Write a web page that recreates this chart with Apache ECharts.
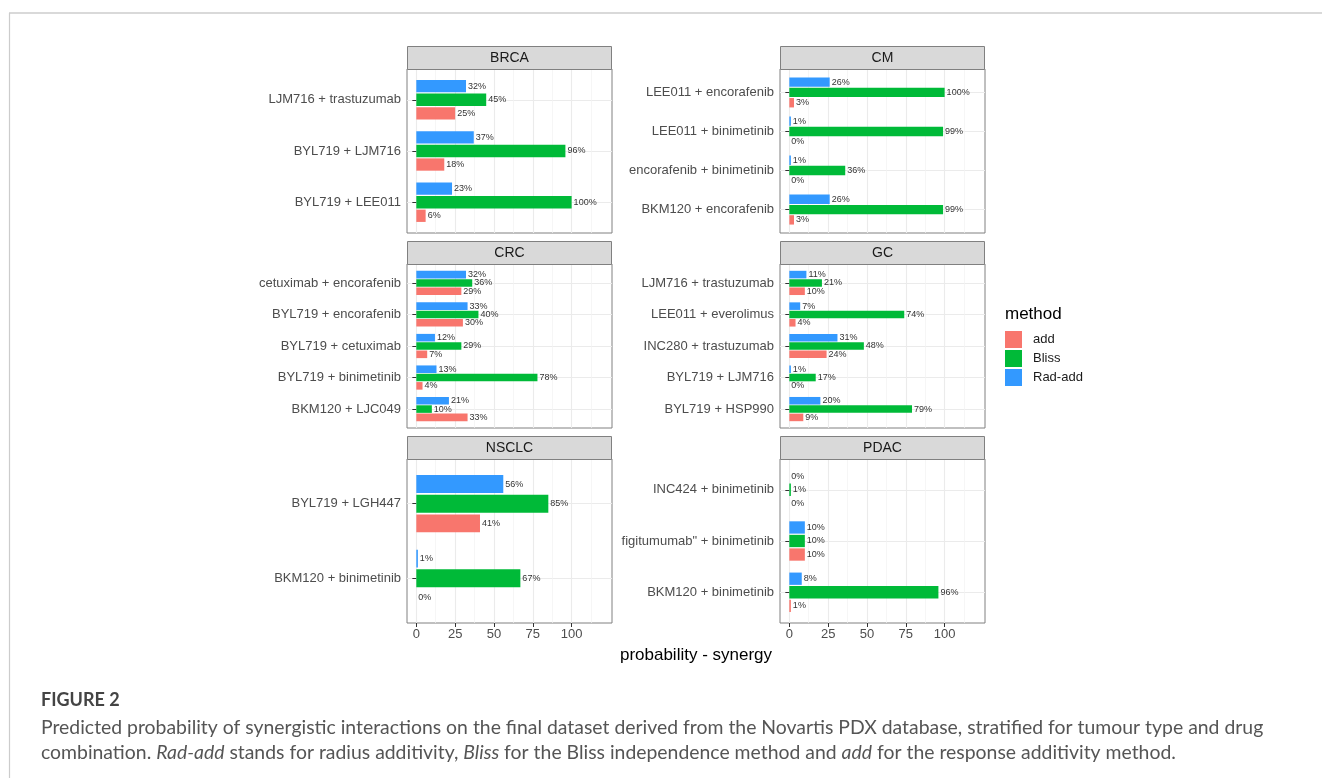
<!DOCTYPE html>
<html>
<head>
<meta charset="utf-8">
<script src="https://cdn.jsdelivr.net/npm/echarts@6/dist/echarts.min.js"></script>
<style>
  html, body { margin: 0; padding: 0; background: #ffffff; }
  #chart { width: 1322px; height: 778px; }
</style>
</head>
<body>
<div id="chart"></div>
<script>
// Synergy methods, in legend order
const methods = ['add', 'Bliss', 'Rad-add'];
const methodColors = ['#F8766D', '#00BA38', '#3399FF'];

// Tumour types (facet order)
const tumourTypes = ['BRCA', 'CM', 'CRC', 'GC', 'NSCLC', 'PDAC'];

// Drug combinations per tumour type, listed bottom-to-top, with probability (%) per method
const brcaCombos = ['BYL719 + LEE011', 'BYL719 + LJM716', 'LJM716 + trastuzumab'];
const brcaAdd    = [6, 18, 25];
const brcaBliss  = [100, 96, 45];
const brcaRadAdd = [23, 37, 32];

const cmCombos = ['BKM120 + encorafenib', 'encorafenib + binimetinib', 'LEE011 + binimetinib', 'LEE011 + encorafenib'];
const cmAdd    = [3, 0, 0, 3];
const cmBliss  = [99, 36, 99, 100];
const cmRadAdd = [26, 1, 1, 26];

const crcCombos = ['BKM120 + LJC049', 'BYL719 + binimetinib', 'BYL719 + cetuximab', 'BYL719 + encorafenib', 'cetuximab + encorafenib'];
const crcAdd    = [33, 4, 7, 30, 29];
const crcBliss  = [10, 78, 29, 40, 36];
const crcRadAdd = [21, 13, 12, 33, 32];

const gcCombos = ['BYL719 + HSP990', 'BYL719 + LJM716', 'INC280 + trastuzumab', 'LEE011 + everolimus', 'LJM716 + trastuzumab'];
const gcAdd    = [9, 0, 24, 4, 10];
const gcBliss  = [79, 17, 48, 74, 21];
const gcRadAdd = [20, 1, 31, 7, 11];

const nsclcCombos = ['BKM120 + binimetinib', 'BYL719 + LGH447'];
const nsclcAdd    = [0, 41];
const nsclcBliss  = [67, 85];
const nsclcRadAdd = [1, 56];

const pdacCombos = ['BKM120 + binimetinib', 'figitumumab" + binimetinib', 'INC424 + binimetinib'];
const pdacAdd    = [1, 10, 0];
const pdacBliss  = [96, 10, 1];
const pdacRadAdd = [8, 10, 0];

// Probability axis
const xMin = -6;
const xMax = 126;
const xTickValues = [0, 25, 50, 75, 100];
const xMinorValues = [12.5, 37.5, 62.5, 87.5, 112.5];
const xTitle = 'probability - synergy';
const legendTitle = 'method';

const figureLabel = 'FIGURE 2';
const captionLine1 = 'Predicted probability of synergistic interactions on the final dataset derived from the Novartis PDX database, stratified for tumour type and drug';
const captionLine2 = 'combination. {i|Rad-add} stands for radius additivity, {i|Bliss} for the Bliss independence method and {i|add} for the response additivity method.';

const panels = [
  { combos: brcaCombos,  values: [brcaAdd,  brcaBliss,  brcaRadAdd] },
  { combos: cmCombos,    values: [cmAdd,    cmBliss,    cmRadAdd] },
  { combos: crcCombos,   values: [crcAdd,   crcBliss,   crcRadAdd] },
  { combos: gcCombos,    values: [gcAdd,    gcBliss,    gcRadAdd] },
  { combos: nsclcCombos, values: [nsclcAdd, nsclcBliss, nsclcRadAdd] },
  { combos: pdacCombos,  values: [pdacAdd,  pdacBliss,  pdacRadAdd] }
];

// Facet layout (pixels)
const FONT = '"Liberation Sans", Arial, Helvetica, sans-serif';
const colLeft = [407, 780];
const panelW = 205;
const stripTop = [46, 241, 436];
const stripH = 23;
const plotH = 164;
const frameColor = '#808080';

const grids = [], xAxes = [], yAxes = [], series = [], graphics = [];

panels.forEach((p, i) => {
  const col = i % 2, row = Math.floor(i / 2);
  const left = colLeft[col];
  const top = stripTop[row] + stripH;
  const n = p.combos.length;
  const pitch = plotH / (n + 0.2);
  const isBottom = row === 2;

  // panel background, frame and grid lines
  grids.push({ left: left, top: top, width: panelW, height: plotH, show: true,
               backgroundColor: '#ffffff', borderColor: frameColor, borderWidth: 1 });
  const gBg = grids.length - 1;
  xAxes.push({
    gridIndex: gBg, type: 'value', min: xMin, max: xMax, position: 'bottom',
    axisLine: { show: false },
    axisTick: { show: isBottom, customValues: xTickValues, length: 4, lineStyle: { color: '#333333' } },
    axisLabel: { show: isBottom, customValues: xTickValues, margin: 5, fontSize: 13, color: '#4d4d4d', fontFamily: FONT },
    splitLine: { show: true, customValues: xTickValues, lineStyle: { color: '#ebebeb', width: 1.1 } }
  });
  xAxes.push({
    gridIndex: gBg, type: 'value', min: xMin, max: xMax, position: 'top',
    axisLine: { show: false },
    axisTick: { show: false, customValues: xMinorValues },
    axisLabel: { show: false },
    splitLine: { show: true, customValues: xMinorValues, lineStyle: { color: '#f2f2f2', width: 0.7 } }
  });
  const catPositions = p.combos.map((c, k) => k + 1);
  yAxes.push({
    gridIndex: gBg, type: 'value', min: 0.4, max: n + 0.6,
    axisLine: { show: false },
    axisTick: { show: false, customValues: catPositions },
    axisLabel: { show: false },
    splitLine: { show: true, customValues: catPositions, lineStyle: { color: '#ebebeb', width: 1.1 } }
  });

  // bars
  grids.push({ left: left, top: top + 0.1 * pitch, width: panelW, height: n * pitch });
  const gData = grids.length - 1;
  xAxes.push({ gridIndex: gData, type: 'value', min: xMin, max: xMax, show: false });
  const xData = xAxes.length - 1;
  yAxes.push({
    gridIndex: gData, type: 'category', data: p.combos,
    axisLine: { show: false },
    axisTick: { show: true, alignWithLabel: true, length: 4, lineStyle: { color: '#333333' } },
    axisLabel: { margin: 6, fontSize: 13, color: '#4d4d4d', fontFamily: FONT },
    splitLine: { show: false }
  });
  const yData = yAxes.length - 1;

  // within each combination: Rad-add on top, then Bliss, then add at the bottom
  [2, 1, 0].forEach((k) => {
    series.push({
      type: 'bar', name: methods[k], xAxisIndex: xData, yAxisIndex: yData,
      data: p.values[k], barWidth: '24%', barGap: '10%',
      itemStyle: { color: methodColors[k] },
      label: { show: true, position: 'right', distance: 2, formatter: '{c}%',
               fontSize: 9, color: '#333333', fontFamily: FONT },
      emphasis: { disabled: true },
      silent: true
    });
  });

  // facet strip
  graphics.push({
    type: 'rect', silent: true, z: 10,
    shape: { x: left + 0.5, y: stripTop[row] + 0.5, width: panelW - 1, height: stripH },
    style: { fill: '#d9d9d9', stroke: frameColor, lineWidth: 1 }
  });
  graphics.push({
    type: 'text', silent: true, z: 11,
    x: left + panelW / 2, y: stripTop[row] + stripH / 2 + 0.5,
    style: { text: tumourTypes[i], fontSize: 14, fontFamily: FONT, fill: '#1a1a1a',
             textAlign: 'center', textVerticalAlign: 'middle', align: 'center', verticalAlign: 'middle' }
  });
});

// card outline
graphics.push({ type: 'line', silent: true, shape: { x1: 9, y1: 13, x2: 1322, y2: 13 },
                style: { stroke: '#cccccc', lineWidth: 1.5 } });
graphics.push({ type: 'line', silent: true, shape: { x1: 9.5, y1: 13, x2: 9.5, y2: 778 },
                style: { stroke: '#cccccc', lineWidth: 1.2 } });

// axis and legend titles
graphics.push({ type: 'text', silent: true, x: 696, y: 655,
  style: { text: xTitle, fontSize: 17, fontFamily: FONT, fill: '#000000',
           textAlign: 'center', textVerticalAlign: 'middle', align: 'center', verticalAlign: 'middle' } });
graphics.push({ type: 'text', silent: true, x: 1005, y: 314,
  style: { text: legendTitle, fontSize: 17, fontFamily: FONT, fill: '#000000',
           textAlign: 'left', textVerticalAlign: 'middle', align: 'left', verticalAlign: 'middle' } });

// figure caption
const CAP_FONT = 'Lato, "Liberation Sans", sans-serif';
const CAP_SIZE = 19.4;
graphics.push({ type: 'text', silent: true, x: 41, y: 700,
  style: { text: figureLabel, fontSize: 18, fontWeight: 'bold', fontFamily: CAP_FONT, fill: '#444444',
           textAlign: 'left', textVerticalAlign: 'middle', align: 'left', verticalAlign: 'middle' } });
graphics.push({ type: 'text', silent: true, x: 41, y: 728,
  style: { text: captionLine1, fontSize: CAP_SIZE, fontFamily: CAP_FONT, fill: '#555555',
           textAlign: 'left', textVerticalAlign: 'middle', align: 'left', verticalAlign: 'middle' } });
graphics.push({ type: 'text', silent: true, x: 41, y: 753,
  style: { text: captionLine2, fontSize: CAP_SIZE, fontFamily: CAP_FONT, fill: '#555555',
           textAlign: 'left', textVerticalAlign: 'middle', align: 'left', verticalAlign: 'middle',
           rich: { i: { fontStyle: 'italic', fontSize: CAP_SIZE, fontFamily: CAP_FONT, fill: '#555555' } } } });

const chart = echarts.init(document.getElementById('chart'), null, { renderer: 'canvas' });
chart.setOption({
  animation: false,
  backgroundColor: '#ffffff',
  grid: grids,
  xAxis: xAxes,
  yAxis: yAxes,
  series: series,
  legend: {
    orient: 'vertical', left: 1005, top: 331, padding: 0,
    itemWidth: 17, itemHeight: 17, itemGap: 2, icon: 'rect',
    data: methods, selectedMode: false,
    textStyle: { fontSize: 13, color: '#1a1a1a', fontFamily: FONT, padding: [0, 0, 0, 6] }
  },
  graphic: graphics
});
</script>
</body>
</html>
